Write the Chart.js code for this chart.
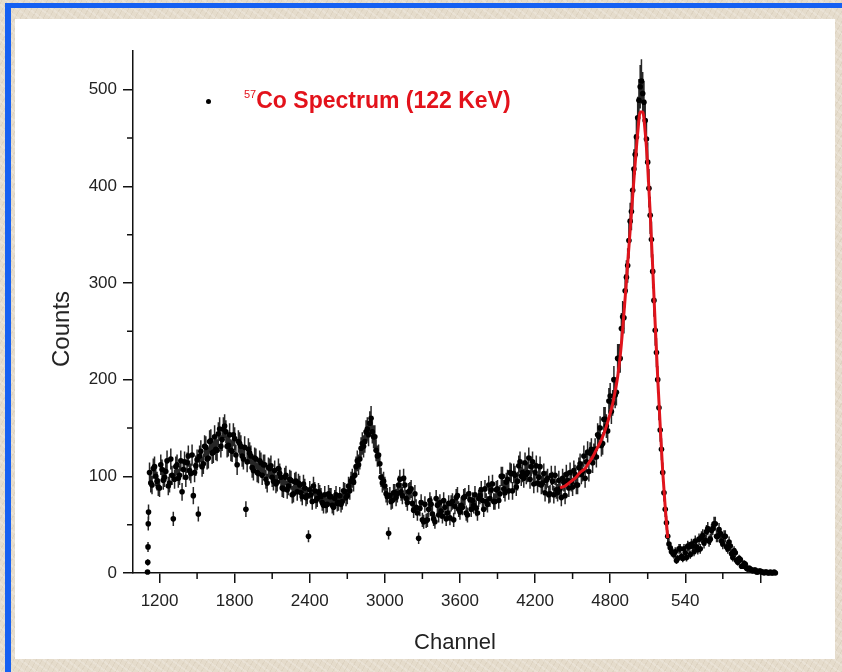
<!DOCTYPE html>
<html>
<head>
<meta charset="utf-8">
<script src="https://cdn.jsdelivr.net/npm/chart.js@4.4.1/dist/chart.umd.min.js"></script>
<style>
  html, body { margin: 0; padding: 0; }
  body {
    width: 842px; height: 672px; overflow: hidden; position: relative;
    background-color: #e5dccc;
    background-image:
      repeating-linear-gradient(37deg, rgba(255,255,255,0.18) 0 2px, rgba(0,0,0,0) 2px 7px),
      repeating-linear-gradient(-61deg, rgba(150,130,100,0.10) 0 1px, rgba(0,0,0,0) 1px 5px);
    font-family: "Liberation Sans", Arial, sans-serif;
  }
  #frame {
    position: absolute; left: 5px; top: 3px; width: 900px; height: 720px;
    border-left: 6px solid #1560f2; border-top: 5px solid #1560f2;
  }
  #panel {
    position: absolute; left: 15px; top: 19px; width: 820px; height: 640px;
    background: #fff;
  }
  #chart { position: absolute; left: 0; top: 0; }
  #ytitle {
    position: absolute; left: 61px; top: 329px;
    transform: translate(-50%, -50%) rotate(-90deg);
    font-size: 24px; color: #222; white-space: nowrap;
  }
  #legend { position: absolute; left: 0; top: 0; }
  #legend .dot {
    position: absolute; left: 206px; top: 99px; width: 5px; height: 5px;
    border-radius: 50%; background: #000;
  }
  #legend .lbl {
    position: absolute; left: 244px; top: 89px; white-space: nowrap;
    font-size: 23px; font-weight: bold; color: #e3121b; line-height: 1;
  }
  #legend sup { font-size: 11px; font-weight: normal; vertical-align: 10px; }
</style>
</head>
<body>
<div id="frame"></div>
<div id="panel"></div>
<canvas id="chart" width="842" height="672"></canvas>
<div id="ytitle">Counts</div>
<div id="legend"><span class="dot"></span><span class="lbl"><sup>57</sup>Co Spectrum (122 KeV)</span></div>

<script>
// canais: duas leituras intercaladas (1120, 1140 ... e 1130, 1150 ...)
const channelStepA = 20, channelStartA = 1120;
const channelStepB = 20, channelStartB = 1130;

// contagens, 1120 ... 6120
const countsA = [
  104, 91, 110, 95, 88, 107, 99, 116, 93, 101,
  97, 112, 101, 84, 115, 114, 106, 122, 104, 117,
  121, 110, 131, 118, 136, 124, 141, 127, 149, 138,
  152, 131, 143, 126, 139, 112, 134, 121, 130, 115,
  124, 109, 119, 104, 116, 101, 112, 93, 108, 99,
  106, 94, 103, 88, 99, 86, 97, 81, 94, 84,
  91, 79, 88, 80, 86, 74, 85, 77, 82, 73,
  81, 71, 79, 70, 77, 72, 80, 74, 84, 80,
  85, 98, 101, 116, 118, 134, 136, 149, 155, 146,
  141, 121, 113, 93, 90, 79, 80, 75, 83, 82,
  97, 80, 91, 73, 85, 72, 82, 62, 67, 55,
  71, 55, 75, 61, 53, 70, 73, 59, 68, 62,
  57, 74, 69, 80, 63, 68, 79, 60, 76, 75,
  81, 62, 80, 75, 87, 71, 77, 92, 74, 87,
  82, 100, 83, 97, 104, 85, 101, 95, 115, 104,
  114, 104, 97, 115, 104, 93, 110, 93, 83, 98,
  82, 95, 101, 83, 87, 98, 80, 96, 104, 89,
  102, 91, 113, 105, 98, 125, 124, 114, 128, 143,
  150, 134, 159, 147, 183, 176, 184, 222, 222, 265,
  292, 318, 364, 396, 433, 471, 503, 496, 468, 425,
  370, 312, 251, 200, 148, 104, 66, 38, 26, 21,
  22, 15, 25, 15, 21, 28, 19, 28, 33, 24,
  25, 39, 34, 46, 35, 46, 51, 38, 41, 30,
  38, 25, 28, 16, 21, 11, 14, 7, 9, 4,
  4, 2, 3, 1, 2, 1, 1, 0, 1, 0,
  0
];

// contagens, 1130 ... 6110
const countsB = [
  93, 108, 100, 89, 112, 96, 105, 90, 118, 56,
  110, 98, 116, 107, 99, 121, 103, 80, 111, 61,
  126, 113, 130, 119, 137, 125, 128, 144, 131, 149,
  146, 132, 127, 143, 122, 136, 131, 118, 66, 128,
  121, 106, 118, 103, 114, 112, 97, 109, 111, 95,
  92, 108, 99, 87, 101, 90, 96, 82, 95, 93,
  83, 92, 78, 38, 81, 90, 75, 84, 79, 70,
  70, 82, 79, 68, 81, 73, 71, 85, 78, 90,
  95, 94, 110, 112, 129, 131, 146, 143, 160, 141,
  127, 122, 99, 95, 82, 41, 74, 83, 78, 91,
  84, 98, 77, 84, 87, 65, 68, 36, 73, 53,
  54, 66, 71, 56, 77, 60, 64, 75, 56, 72,
  72, 55, 78, 66, 70, 78, 62, 82, 66, 70,
  67, 77, 86, 66, 74, 91, 86, 74, 86, 75,
  100, 87, 94, 85, 103, 103, 89, 111, 100, 98,
  102, 119, 110, 92, 111, 99, 91, 103, 96, 81,
  101, 81, 86, 96, 78, 94, 102, 88, 94, 106,
  91, 109, 102, 121, 115, 105, 128, 123, 120, 141,
  132, 159, 152, 178, 167, 200, 187, 222, 253, 264,
  306, 344, 374, 418, 451, 489, 509, 487, 449, 398,
  345, 282, 228, 171, 128, 83, 52, 30, 22, 19,
  13, 25, 17, 25, 16, 27, 30, 22, 27, 35,
  37, 31, 43, 33, 44, 51, 38, 45, 33, 38,
  27, 32, 20, 23, 13, 15, 7, 10, 5, 5,
  3, 3, 1, 2, 1, 0, 1, 0, 0, 1
];

// borda de subida no início do espectro
const edgeChannels = [1104, 1106, 1108, 1110, 1112];
const edgeCounts   = [1, 11, 27, 51, 63];

// curva de ajuste (vermelha), 4400 ... 5260
const fitStart = 4400;
const fitStep  = 20;
const fitCounts = [
  88, 89, 90, 92, 94, 96, 98, 101, 104, 106,
  108, 112, 116, 120, 125, 130, 135, 141, 148, 156,
  165, 175, 188, 203, 224, 252, 285, 320, 355, 390,
  424, 455, 477, 477, 456, 421, 372, 316, 257, 202,
  152, 105, 68, 36
];

// eixos
const xTickValues = [1200, 1800, 2400, 3000, 3600, 4200, 4800, 5400, 6000];
const xTickLabels = ['1200', '1800', '2400', '3000', '3600', '4200', '4800', '540', ''];
const xMinorTicks = [1500, 2100, 2700, 3300, 3900, 4500, 5100, 5700];
const yTickValues = [0, 100, 200, 300, 400, 500];
const yMinorTicks = [50, 150, 250, 350, 450];

const spectrum = edgeChannels.map((c, i) => ({ x: c, y: edgeCounts[i] }))
  .concat(countsA.map((v, i) => ({ x: channelStartA + i * channelStepA, y: v })))
  .concat(countsB.map((v, i) => ({ x: channelStartB + i * channelStepB, y: v })));
const fitCurve = fitCounts.map((v, i) => ({ x: fitStart + i * fitStep, y: v }));

// barras de erro (raiz das contagens)
const errorBars = {
  id: 'errorBars',
  beforeDatasetsDraw(chart) {
    const { ctx, scales: { x, y } } = chart;
    ctx.save();
    ctx.strokeStyle = '#262626';
    ctx.lineWidth = 1.5;
    ctx.beginPath();
    spectrum.forEach(p => {
      const e  = Math.sqrt(Math.max(p.y, 1));
      const px = x.getPixelForValue(p.x);
      ctx.moveTo(px, y.getPixelForValue(p.y + e));
      ctx.lineTo(px, y.getPixelForValue(Math.max(p.y - e, 0)));
    });
    ctx.stroke();
    ctx.restore();
  }
};

// ticks menores
const minorTicks = {
  id: 'minorTicks',
  afterDraw(chart) {
    const { ctx, scales: { x, y } } = chart;
    ctx.save();
    ctx.strokeStyle = '#111';
    ctx.lineWidth = 1.5;
    ctx.beginPath();
    xMinorTicks.forEach(v => {
      const px = x.getPixelForValue(v);
      ctx.moveTo(px, y.bottom);
      ctx.lineTo(px, y.bottom + 6);
    });
    yMinorTicks.forEach(v => {
      const py = y.getPixelForValue(v);
      ctx.moveTo(x.left - 6, py);
      ctx.lineTo(x.left, py);
    });
    ctx.stroke();
    ctx.restore();
  }
};

const tickFont = { family: '"Liberation Sans", Arial, sans-serif', size: 17 };

new Chart(document.getElementById('chart'), {
  type: 'scatter',
  data: {
    datasets: [
      {
        label: 'fit',
        type: 'line',
        data: fitCurve,
        borderColor: '#e0141c',
        borderWidth: 3,
        pointRadius: 0,
        cubicInterpolationMode: 'monotone',
        order: 1
      },
      {
        label: '57Co Spectrum (122 KeV)',
        data: spectrum,
        backgroundColor: '#000',
        borderColor: '#000',
        pointRadius: 2.8,
        borderWidth: 0,
        clip: false,
        order: 2
      }
    ]
  },
  options: {
    responsive: false,
    animation: false,
    devicePixelRatio: 1,
    layout: { padding: { top: 51, right: 65, left: 0, bottom: 0 } },
    plugins: { legend: { display: false }, tooltip: { enabled: false } },
    scales: {
      x: {
        type: 'linear',
        min: 988,
        max: 6133,
        afterBuildTicks: s => { s.ticks = xTickValues.map(v => ({ value: v })); },
        afterFit: s => { s.height = 99; },
        ticks: {
          autoSkip: false, maxRotation: 0, padding: 8, color: '#222', font: tickFont,
          callback: (v, i) => xTickLabels[i]
        },
        grid: { display: true, drawOnChartArea: false, drawTicks: true, tickLength: 10, color: '#111', lineWidth: 1.5 },
        border: { display: true, color: '#111', width: 1.5 },
        title: {
          display: true, text: 'Channel', color: '#222',
          font: { family: '"Liberation Sans", Arial, sans-serif', size: 22 },
          padding: { top: 0, bottom: 16 }
        }
      },
      y: {
        min: 0,
        max: 540,
        afterBuildTicks: s => { s.ticks = yTickValues.map(v => ({ value: v })); },
        afterFit: s => { s.width = 133; },
        ticks: { padding: 6, color: '#222', font: tickFont, callback: v => String(v) },
        grid: { display: true, drawOnChartArea: false, drawTicks: true, tickLength: 10, color: '#111', lineWidth: 1.5 },
        border: { display: true, color: '#111', width: 1.5 }
      }
    }
  },
  plugins: [errorBars, minorTicks]
});
</script>
</body>
</html>
